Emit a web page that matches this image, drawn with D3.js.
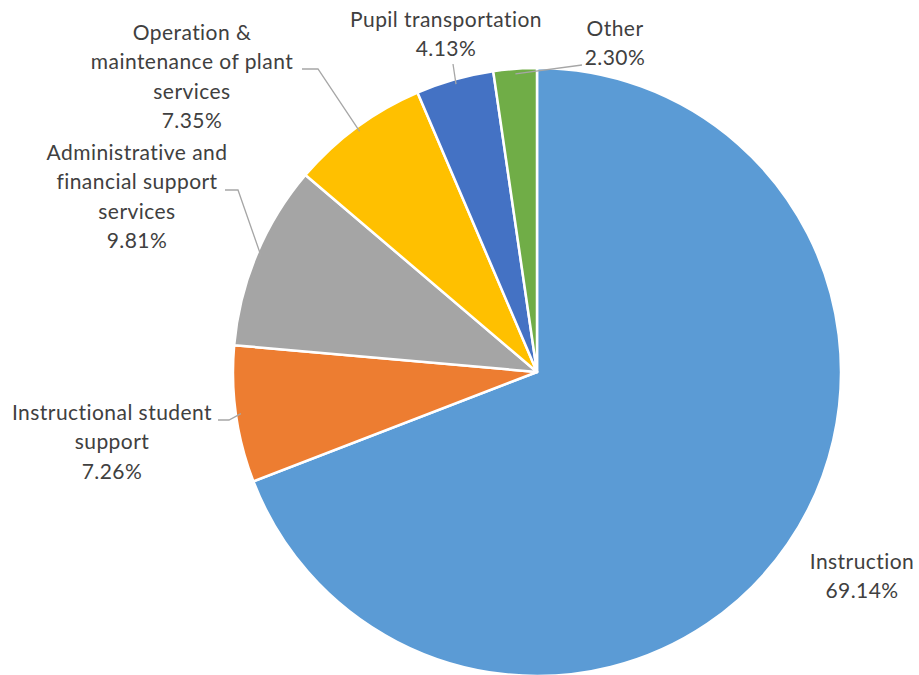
<!DOCTYPE html>
<html>
<head>
<meta charset="utf-8">
<script src="https://cdn.jsdelivr.net/npm/d3@7"></script>
<style>
  body { margin: 0; background: #fff; }
  .lbl { font-family: Lato, "Open Sans", sans-serif; font-size: 21px; letter-spacing: 0.45px; fill: #404040; }
</style>
</head>
<body>
<div id="chart"></div>
<script>
// data
var categories = ["Instruction", "Instructional student support", "Administrative and financial support services",
  "Operation & maintenance of plant services", "Pupil transportation", "Other"];
var values = [69.14, 7.26, 9.81, 7.35, 4.13, 2.30];
var colors = ["#5B9BD5", "#ED7D31", "#A5A5A5", "#FFC000", "#4472C4", "#70AD47"];
// how each label wraps
var labelLines = [
  ["Instruction"],
  ["Instructional student", "support"],
  ["Administrative and", "financial support", "services"],
  ["Operation &", "maintenance of plant", "services"],
  ["Pupil transportation"],
  ["Other"]
];

var svgWidth = 919;
var svgHeight = 675;
var cx = 537, cy = 372, radius = 304;

// label layout: text centre x, first line y, leader elbow and end (null = no leader)
var labelPos = [
  { x: 862, y: 569, leader: null },
  { x: 112, y: 420, leader: [[229, 420], [218, 420]] },
  { x: 137, y: 160, leader: [[238, 190], [225, 190]] },
  { x: 192, y: 40, leader: [[318, 69], [302, 69]] },
  { x: 446, y: 27, leader: [[453, 64]] },
  { x: 615, y: 36, leader: [[582, 65]] }
];
var lineHeight = 29.3;

var svg = d3.select("#chart")
  .append("svg")
  .attr("width", svgWidth)
  .attr("height", svgHeight);

var pieData = d3.pie().sort(null).value(d => d)(values);

var arc = d3.arc().innerRadius(0).outerRadius(radius);

var pieGroup = svg.append("g")
  .attr("transform", `translate(${cx}, ${cy})`);

pieGroup.selectAll("path")
  .data(pieData)
  .enter()
  .append("path")
  .attr("d", arc)
  .attr("fill", (d, i) => colors[i])
  .attr("stroke", "#fff")
  .attr("stroke-width", 2.5)
  .attr("stroke-linejoin", "round");

// leader lines
pieData.forEach(function(d, i) {
  var pos = labelPos[i];
  if (!pos.leader) return;
  var a = (d.startAngle + d.endAngle) / 2;
  var start = [cx + (radius - 5) * Math.sin(a), cy - (radius - 5) * Math.cos(a)];
  var pts = [start].concat(pos.leader);
  svg.append("path")
    .attr("d", d3.line()(pts))
    .attr("fill", "none")
    .attr("stroke", "#A6A6A6")
    .attr("stroke-width", 1.3);
});

// labels
pieData.forEach(function(d, i) {
  var pos = labelPos[i];
  var lines = labelLines[i].concat([values[i].toFixed(2) + "%"]);
  var t = svg.append("text")
    .attr("class", "lbl")
    .attr("text-anchor", "middle");
  lines.forEach(function(s, j) {
    t.append("tspan")
      .attr("x", pos.x)
      .attr("y", pos.y + j * lineHeight)
      .text(s);
  });
});
</script>
</body>
</html>
